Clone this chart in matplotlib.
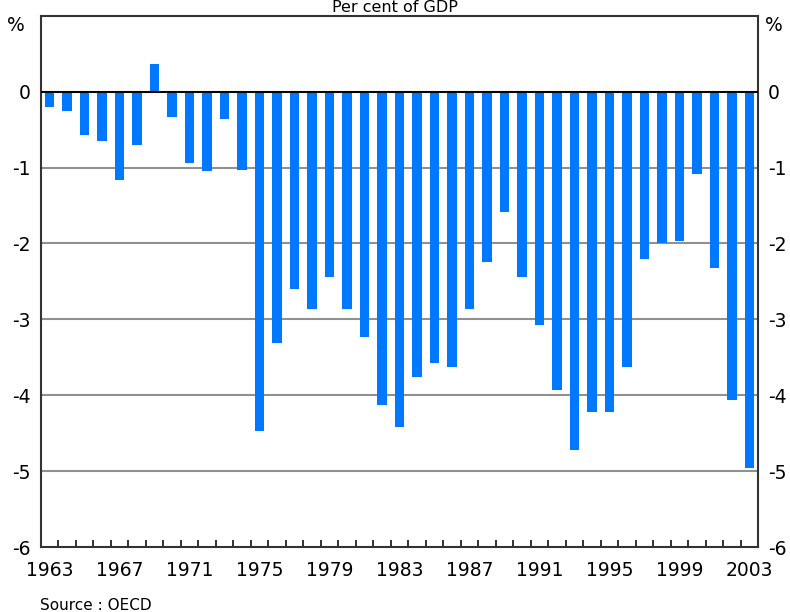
import matplotlib
matplotlib.use("Agg")
import matplotlib.pyplot as plt
import numpy as np

# current account balance, per cent of GDP
years = list(range(1963, 2004))
values = [-0.20, -0.25, -0.57, -0.65, -1.17, -0.70, 0.36, -0.33, -0.94, -1.04,
          -0.36, -1.03, -4.47, -3.31, -2.60, -2.86, -2.44, -2.86, -3.23, -4.13,
          -4.42, -3.76, -3.58, -3.63, -2.86, -2.25, -1.59, -2.44, -3.08, -3.93,
          -4.72, -4.22, -4.22, -3.63, -2.21, -1.99, -1.97, -1.09, -2.33, -4.06,
          -4.96]
label_years = list(range(1963, 2004, 4))
y_ticks = [0, -1, -2, -3, -4, -5, -6]

title = "Per cent of GDP"
source = "Source : OECD"

plt.rcParams['font.family'] = ['DejaVu Sans']

fig = plt.figure(figsize=(7.9, 6.12), dpi=100)
ax = fig.add_axes([0.0515, 0.1062, 0.9084, 0.8681])

ax.bar(years, values, width=0.55, color='#0078ff', zorder=3)

ax.set_xlim(1962.5, 2003.5)
ax.set_ylim(-6, 1)

# grid lines and zero line
for v in y_ticks[1:-1]:
    ax.axhline(v, color='#909090', lw=1.5, zorder=1)
ax.axhline(0, color='black', lw=1.5, zorder=4)

# x axis: year labels every 4 years, small inward ticks between years
ax.set_xticks(label_years)
ax.set_xticklabels([str(y) for y in label_years], fontsize=13.5)
ax.set_xticks(np.arange(1963.5, 2003.5, 1.0), minor=True)
ax.tick_params(axis='x', which='major', length=0, pad=10)
ax.tick_params(axis='x', which='minor', direction='in', length=5, width=1.3, color='#222222')

# y axis labels on both sides, no tick marks
ax.set_yticks(y_ticks)
ax.set_yticklabels([str(v) for v in y_ticks], fontsize=13.5)
ax.tick_params(axis='y', which='both', length=0, left=True, right=True,
               labelleft=True, labelright=True)
ax.tick_params(axis='y', which='major', pad=7)

for s in ax.spines.values():
    s.set_color('#333333')
    s.set_linewidth(1.5)

ax.text(-0.022, 1.0, "%", transform=ax.transAxes, ha='right', va='top', fontsize=13.5)
ax.text(1.009, 1.0, "%", transform=ax.transAxes, ha='left', va='top', fontsize=13.5)

fig.text(0.5, 1 - 12 / 612, title, ha='center', va='baseline', fontsize=11.5)
fig.text(40 / 790, 2 / 612, source, ha='left', va='baseline', fontsize=11)

fig.savefig("out.png", dpi=100)
